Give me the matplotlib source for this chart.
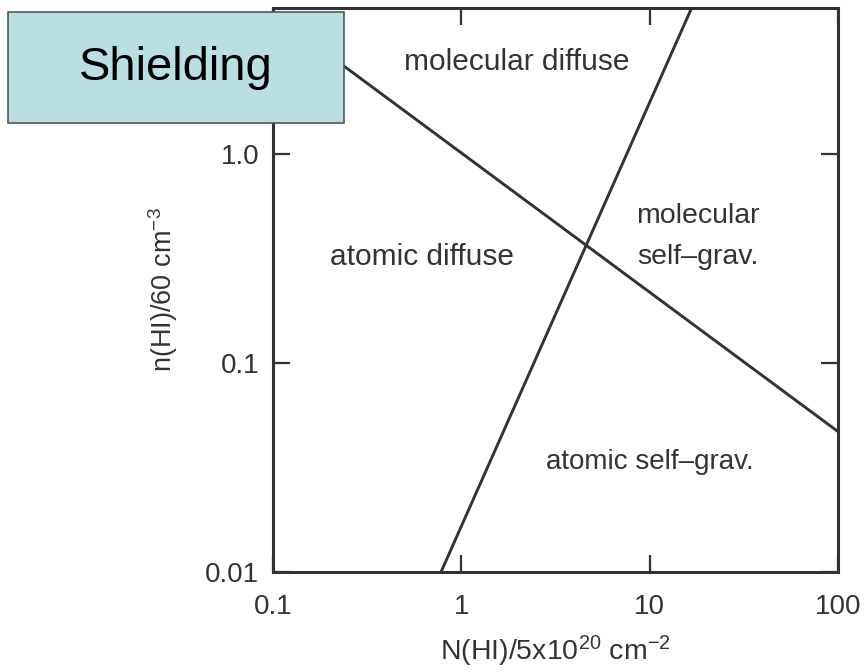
import matplotlib
matplotlib.use("Agg")
import matplotlib.pyplot as plt
from matplotlib.patches import Rectangle
import numpy as np

plt.rcParams['font.family'] = ['Liberation Sans', 'DejaVu Sans']
plt.rcParams['mathtext.fontset'] = 'custom'
plt.rcParams['mathtext.rm'] = 'Liberation Sans'
plt.rcParams['mathtext.it'] = 'Liberation Sans'
plt.rcParams['mathtext.default'] = 'regular'

# Boundary lines (x = N(HI)/5e20 cm^-2, y = n(HI)/60 cm^-3)
steep_x = [0.78, 16.7]
steep_y = [0.01, 5.0]
shallow_x = [0.1, 100]
shallow_y = [4.7, 0.047]

region_labels = ["molecular diffuse", "atomic diffuse", "molecular\nself\u2013grav.", "atomic self\u2013grav."]
region_x = [1.96, 0.62, 18.1, 9.96]
region_y = [2.76, 0.321, 0.405, 0.0336]
region_size = [21.5, 21.5, 20.5, 20.0]

xticks = [0.1, 1, 10, 100]
xticklabels = ["0.1", "1", "10", "100"]
yticks = [0.01, 0.1, 1.0]
yticklabels = ["0.01", "0.1", "1.0"]

col = '#333333'
fig = plt.figure(figsize=(8.65, 6.72), dpi=100)
ax = fig.add_axes([273/865, 1-572/672, (838-273)/865, (572-8)/672])
ax.set_xscale('log')
ax.set_yscale('log')
ax.set_xlim(0.1, 100)
ax.set_ylim(0.01, 5.0)

ax.plot(steep_x, steep_y, color=col, lw=2.1, solid_capstyle='butt')
ax.plot(shallow_x, shallow_y, color=col, lw=2.1, solid_capstyle='butt')

for t, x, y, fs in zip(region_labels, region_x, region_y, region_size):
    ax.text(x, y, t, ha='center', va='center', fontsize=fs, color='#333333', linespacing=1.75)

ax.set_xticks(xticks)
ax.set_xticklabels(xticklabels)
ax.set_yticks(yticks)
ax.set_yticklabels(yticklabels)
ax.minorticks_off()
ax.tick_params(which='major', direction='in', length=12, width=1.6, color=col,
               top=True, right=True, labelsize=20, labelcolor='#333333')
ax.tick_params(axis='x', pad=16)
ax.tick_params(axis='y', pad=10)
for s in ax.spines.values():
    s.set_linewidth(2.2)
    s.set_color(col)

ax.set_xlabel("N(HI)/5x10$^{20}$ cm$^{-2}$", fontsize=20.5, color='#333333', labelpad=10)
ax.set_ylabel("n(HI)/60 cm$^{-3}$", fontsize=19.5, color='#333333', labelpad=18)

# Shielding box
rect = Rectangle((8/865, 1-123/672), (344-8)/865, (123-12)/672, transform=fig.transFigure,
                 facecolor='#b9dfe2', edgecolor='#555555', lw=1.2, zorder=10)
fig.add_artist(rect)
fig.text((8+344)/2/865, 1-(12+123)/2/672, "Shielding", ha='center', va='center',
         fontsize=34, color='black', zorder=11)

fig.savefig("out.png", dpi=100)
